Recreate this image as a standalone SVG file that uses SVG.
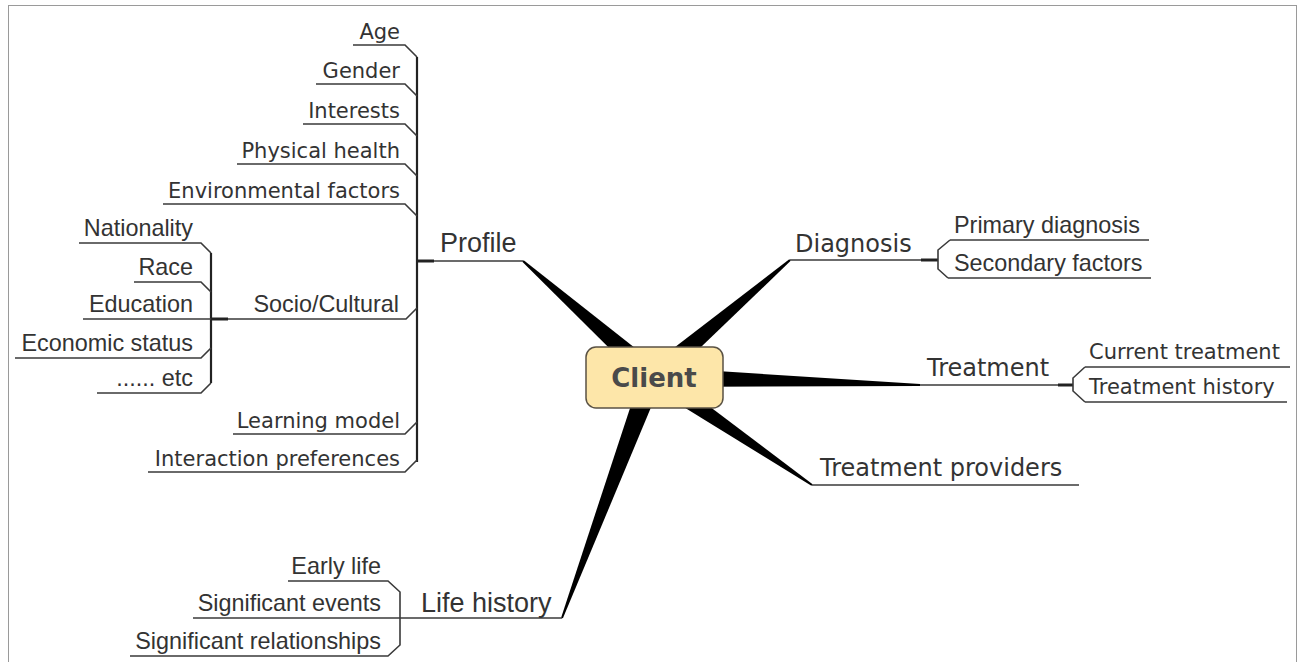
<svg xmlns="http://www.w3.org/2000/svg" width="1299" height="662" viewBox="0 0 1299 662">
<style>
.ln{fill:none;stroke:#3a3a3a;stroke-width:1.6;stroke-linejoin:miter}
.vl{fill:none;stroke:#222;stroke-width:2.2}
.stub{fill:none;stroke:#222;stroke-width:3}
.br{fill:#000}
.t{font-family:"DejaVu Sans",Verdana,sans-serif;fill:#333;font-size:21px}
.tm{font-family:"DejaVu Sans",Verdana,sans-serif;fill:#333;font-size:24px}
.a{font-family:"Liberation Sans",Arial,sans-serif;fill:#333;font-size:23.4px}
.am{font-family:"Liberation Sans",Arial,sans-serif;fill:#333;font-size:27px}
.e{text-anchor:end}
</style>
<rect x="8.5" y="5.5" width="1288" height="680" fill="#fff" stroke="#9a9a9a" stroke-width="1"/>
<g id="connectors">
  <polygon class="br" points="523.7,260.3 661.3,368.8 646.7,385.2 522.3,261.7"/>
  <polygon class="br" points="789.3,259.2 790.7,260.8 661.2,385.3 646.8,368.7"/>
  <polygon class="br" points="654.3,367 920,384 920,386 653.7,387"/>
  <polygon class="br" points="659.6,368.7 812.6,484.2 811.4,485.8 648.4,385.3"/>
  <polygon class="br" points="561.1,617.7 641.6,372.9 662.4,380.1 562.9,618.3"/>
  <!-- Profile -->
  <path class="ln" d="M417,261 H523"/>
  <path class="stub" d="M417,261 H434"/>
  <path class="vl" d="M417,57 V462"/>
  <path class="ln" d="M353,45 H405 L417,57"/>
  <path class="ln" d="M316,84 H405 L417,96"/>
  <path class="ln" d="M303,124 H405 L417,136"/>
  <path class="ln" d="M237,164 H405 L417,176"/>
  <path class="ln" d="M163,204 H405 L417,216"/>
  <path class="ln" d="M210,319 H406 L417,308"/>
  <path class="ln" d="M233,434 H405 L417,422"/>
  <path class="ln" d="M148,472 H405 L417,460"/>
  <!-- Socio/Cultural -->
  <path class="vl" d="M211,253 V383"/>
  <path class="stub" d="M211,319 H228"/>
  <path class="ln" d="M79,243 H201 L211,253"/>
  <path class="ln" d="M134,282 H201 L211,292"/>
  <path class="ln" d="M83,319 H211"/>
  <path class="ln" d="M15,358 H201 L211,348"/>
  <path class="ln" d="M97,393 H201 L211,383"/>
  <!-- Diagnosis -->
  <path class="ln" d="M790,260 H938"/>
  <path class="stub" d="M921,260 H938"/>
  <path class="ln" d="M950,240 L938,250 V269 L948,278"/>
  <path class="ln" d="M950,240 H1149"/>
  <path class="ln" d="M948,278 H1151"/>
  <!-- Treatment -->
  <path class="ln" d="M920,385 H1073"/>
  <path class="stub" d="M1058,385 H1073"/>
  <path class="ln" d="M1085,367 L1073,378 V391 L1085,402"/>
  <path class="ln" d="M1085,367 H1290"/>
  <path class="ln" d="M1085,402 H1287"/>
  <!-- Treatment providers -->
  <path class="ln" d="M812,485 H1079"/>
  <!-- Life history -->
  <path class="ln" d="M193,618 H562"/>
  <path class="ln" d="M288,581 H388 L400,592 V645 L388,656 H130"/>
</g>
<g id="client">
  <rect x="586" y="347" width="137" height="61" rx="10" fill="#fde6a9" stroke="#5a5244" stroke-width="1.5"/>
  <text x="654" y="387" text-anchor="middle" font-family="'DejaVu Sans',Verdana,sans-serif" font-weight="bold" font-size="26" fill="#4a4a4a">Client</text>
</g>
<g id="profile"><text class="am" x="440" y="252">Profile</text></g>
<g id="age"><text class="t e" x="400" y="39">Age</text></g>
<g id="gender"><text class="t e" x="400" y="78">Gender</text></g>
<g id="interests"><text class="t e" x="400" y="118">Interests</text></g>
<g id="physical-health"><text class="t e" x="400" y="158">Physical health</text></g>
<g id="environmental-factors"><text class="t e" x="400" y="198">Environmental factors</text></g>
<g id="socio-cultural"><text class="a e" x="399" y="312">Socio/Cultural</text></g>
<g id="learning-model"><text class="t e" x="400" y="428">Learning model</text></g>
<g id="interaction-preferences"><text class="t e" x="400" y="466">Interaction preferences</text></g>
<g id="nationality"><text class="a e" x="193" y="236">Nationality</text></g>
<g id="race"><text class="a e" x="193" y="275">Race</text></g>
<g id="education"><text class="a e" x="193" y="312">Education</text></g>
<g id="economic-status"><text class="a e" x="193" y="351">Economic status</text></g>
<g id="etc"><text class="a e" x="193" y="386">...... etc</text></g>
<g id="diagnosis"><text class="tm" x="795" y="252">Diagnosis</text></g>
<g id="primary-diagnosis"><text class="a" x="954" y="233">Primary diagnosis</text></g>
<g id="secondary-factors"><text class="a" x="954" y="271">Secondary factors</text></g>
<g id="treatment"><text class="tm" x="927" y="376">Treatment</text></g>
<g id="current-treatment"><text class="t" x="1089" y="359">Current treatment</text></g>
<g id="treatment-history"><text class="t" x="1089" y="394">Treatment history</text></g>
<g id="treatment-providers"><text class="tm" x="820" y="476">Treatment providers</text></g>
<g id="life-history"><text class="am" x="421" y="612">Life history</text></g>
<g id="early-life"><text class="a e" x="381" y="574">Early life</text></g>
<g id="significant-events"><text class="a e" x="381" y="611">Significant events</text></g>
<g id="significant-relationships"><text class="a e" x="381" y="649">Significant relationships</text></g>
</svg>
